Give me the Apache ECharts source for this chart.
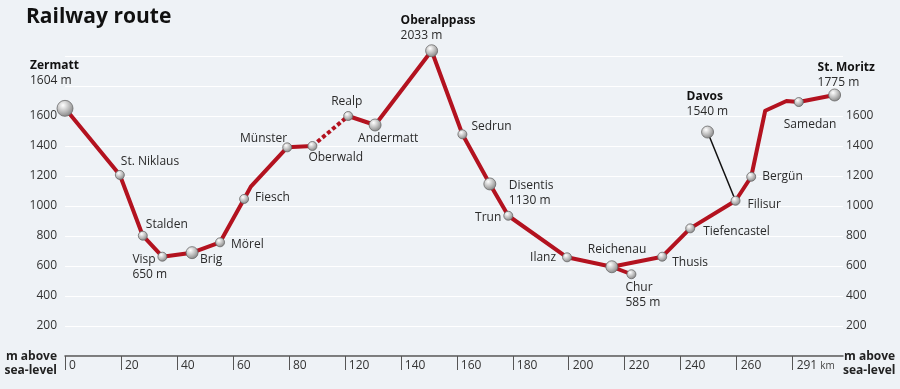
<!DOCTYPE html>
<html>
<head>
<meta charset="utf-8">
<script src="https://cdn.jsdelivr.net/npm/echarts@6/dist/echarts.min.js"></script>
<style>
html,body{margin:0;padding:0;background:#eef2f6;}
#chart{width:900px;height:389px;}
</style>
</head>
<body>
<div id="chart"></div>
<script>
// ---- data ----
const kmTickLabels = ['0','20','40','60','80','120','140','160','180','200','220','240','260','291'];
const yTicks = [200, 400, 600, 800, 1000, 1200, 1400, 1600];

const stationNames = ['Zermatt','St. Niklaus','Stalden','Visp','Brig','Mörel','Fiesch','Münster','Oberwald','Realp','Andermatt','Oberalppass','Sedrun','Disentis','Trun','Ilanz','Reichenau','Chur','Thusis','Tiefencastel','Filisur','Bergün','Samedan','St. Moritz','Davos'];
// position along the (tick-indexed) distance axis
const stationPos = [0, 0.98, 1.39, 1.74, 2.27, 2.77, 3.20, 3.97, 4.42, 5.06, 5.54, 6.55, 7.10, 7.59, 7.92, 8.97, 9.77, 10.12, 10.67, 11.17, 11.98, 12.26, 13.11, 13.75, 11.48];
// elevation (m above sea level) as drawn
const stationElev = [1651, 1207, 802, 662, 689, 758, 1047, 1391, 1400, 1600, 1540, 2035, 1478, 1147, 935, 658, 595, 545, 662, 851, 1035, 1195, 1693, 1740, 1493];
// printed elevation annotations
const stationElevText = ['1604 m','','','650 m','','','','','','','','2033 m','','1130 m','','','','585 m','','','','','','1775 m','1540 m'];

const bendNames = ['bend1','bend2','bend3'];
const bendPos = [3.32, 12.51, 12.89];
const bendElev = [1129, 1635, 1700];

const trackWest = ['Zermatt','St. Niklaus','Stalden','Visp','Brig','Mörel','Fiesch','bend1','Münster','Oberwald'];
const trackTunnel = ['Oberwald','Realp'];
const trackEast = ['Realp','Andermatt','Oberalppass','Sedrun','Disentis','Trun','Ilanz','Reichenau','Thusis','Tiefencastel','Filisur','Bergün','bend2','bend3','Samedan','St. Moritz'];
const trackChur = ['Reichenau','Chur'];
const trackDavos = ['Davos','Filisur'];

// ---- styles ----
const boldStations = ['Zermatt','Oberalppass','St. Moritz','Davos'];
const bigStations = {'Zermatt':16,'Brig':12,'Andermatt':12,'Oberalppass':12,'Disentis':12,'Reichenau':12,'St. Moritz':12,'Davos':12};
const smallSize = 9;
const labelLayout = {
  'Zermatt':[-35,-35,'left'], 'St. Niklaus':[1,-13,'left'], 'Stalden':[3,-11,'left'],
  'Visp':[-30,10,'left'], 'Brig':[8,7,'left'], 'Mörel':[11,2,'left'], 'Fiesch':[11,-1,'left'],
  'Münster':[0,-9,'right'], 'Oberwald':[-4,12,'left'], 'Realp':[-17,-14,'left'],
  'Andermatt':[-17,14,'left'], 'Oberalppass':[-31,-23,'left'], 'Sedrun':[9,-8,'left'],
  'Disentis':[19,9,'left'], 'Trun':[-7,2,'right'], 'Ilanz':[-11,0,'right'],
  'Reichenau':[-24,-17,'left'], 'Chur':[-6,21,'left'], 'Thusis':[10,6,'left'],
  'Tiefencastel':[13,3,'left'], 'Filisur':[12,4,'left'], 'Bergün':[11,0,'left'],
  'Samedan':[-15,23,'left'], 'St. Moritz':[-17,-20,'left'], 'Davos':[-21,-28,'left']
};
const RED = '#b3121f';
const FONT = '"Open Sans", "DejaVu Sans", sans-serif';

function pointOf(name) {
  let i = stationNames.indexOf(name);
  if (i >= 0) return [stationPos[i], stationElev[i]];
  i = bendNames.indexOf(name);
  return [bendPos[i], bendElev[i]];
}
function track(names) { return names.map(pointOf); }

const sphere = {
  type: 'radial', x: 0.38, y: 0.32, r: 0.75,
  colorStops: [{offset: 0, color: '#ffffff'}, {offset: 0.55, color: '#b8b8b8'}, {offset: 1, color: '#7a7a7a'}]
};

const stationData = stationNames.map((n, i) => {
  const lay = labelLayout[n];
  const bold = boldStations.indexOf(n) >= 0;
  let txt = bold ? '{b|' + n + '}' : '{n|' + n + '}';
  if (stationElevText[i]) txt += '\n{n|' + stationElevText[i] + '}';
  return {
    name: n,
    value: [stationPos[i], stationElev[i]],
    symbolSize: bigStations[n] || smallSize,
    label: {
      show: true, position: 'inside', align: lay[2], verticalAlign: 'middle',
      offset: [lay[0], lay[1]], formatter: txt
    }
  };
});

const lineBase = {type: 'line', symbol: 'none', silent: true, animation: false, z: 2, clip: false};

const chart = echarts.init(document.getElementById('chart'), null, {renderer: 'canvas'});
chart.setOption({
  backgroundColor: '#eef2f6',
  animation: false,
  textStyle: {fontFamily: FONT},
  title: {
    text: 'Railway route', left: 26, top: 7, padding: 0,
    textStyle: {fontFamily: FONT, fontSize: 21, fontWeight: 'bold', color: '#111'}
  },
  grid: {left: 65, right: 57, top: 56, bottom: 33},
  xAxis: {
    type: 'value', min: 0, max: 13.9, interval: 1,
    axisLine: {show: true, onZero: false, lineStyle: {color: '#555', width: 1.5}},
    axisTick: {show: true, length: 14, customValues: kmTickLabels.map((_, i) => i), lineStyle: {color: '#555', width: 1}},
    axisLabel: {
      customValues: kmTickLabels.map((_, i) => i),
      formatter: v => {
        const i = Math.round(v);
        return i === kmTickLabels.length - 1 ? '{v|' + kmTickLabels[i] + '} {k|km}' : '{v|' + kmTickLabels[i] + '}';
      },
      align: 'left', margin: 4, padding: [0, 0, 0, 4],
      rich: {v: {fontSize: 12, color: '#333', fontFamily: FONT}, k: {fontSize: 10, color: '#444', fontFamily: FONT}}
    },
    splitLine: {show: false}
  },
  yAxis: [{
    type: 'value', min: 0, max: 2000, interval: 200, position: 'left',
    axisLine: {show: false}, axisTick: {show: false},
    axisLabel: {margin: 8, fontSize: 12, color: '#333', fontFamily: FONT,
      formatter: v => yTicks.indexOf(v) >= 0 ? String(v) : ''},
    splitLine: {show: true, lineStyle: {color: '#ffffff', width: 1}}
  }, {
    type: 'value', min: 0, max: 2000, interval: 200, position: 'right',
    axisLine: {show: false}, axisTick: {show: false},
    axisLabel: {margin: 3, fontSize: 12, color: '#333', fontFamily: FONT,
      formatter: v => yTicks.indexOf(v) >= 0 ? String(v) : ''},
    splitLine: {show: false}
  }],
  graphic: [
    {type: 'text', x: 57, y: 357, style: {text: 'm above', font: 'bold 12px ' + FONT, fill: '#222', textAlign: 'right', textVerticalAlign: 'middle'}},
    {type: 'text', x: 57, y: 371, style: {text: 'sea-level', font: 'bold 12px ' + FONT, fill: '#222', textAlign: 'right', textVerticalAlign: 'middle'}},
    {type: 'text', x: 844, y: 357, style: {text: 'm above', font: 'bold 12px ' + FONT, fill: '#222', textAlign: 'left', textVerticalAlign: 'middle'}},
    {type: 'text', x: 843, y: 371, style: {text: 'sea-level', font: 'bold 12px ' + FONT, fill: '#222', textAlign: 'left', textVerticalAlign: 'middle'}}
  ],
  series: [
    Object.assign({}, lineBase, {data: track(trackDavos), lineStyle: {color: '#111', width: 1.5}}),
    Object.assign({}, lineBase, {data: track(trackWest), lineStyle: {color: RED, width: 4, join: 'round'}}),
    Object.assign({}, lineBase, {data: track(trackTunnel), lineStyle: {color: RED, width: 4, type: [4, 2.5]}}),
    Object.assign({}, lineBase, {data: track(trackEast), lineStyle: {color: RED, width: 4, join: 'round'}}),
    Object.assign({}, lineBase, {data: track(trackChur), lineStyle: {color: RED, width: 4}}),
    {
      type: 'scatter', z: 5, animation: false, silent: true, clip: false,
      data: stationData,
      itemStyle: {color: sphere, borderColor: '#6a6a6a', borderWidth: 0.8, opacity: 1},
      label: {
        rich: {
          b: {fontFamily: FONT, fontSize: 12, fontWeight: 'bold', color: '#111', lineHeight: 15},
          n: {fontFamily: FONT, fontSize: 12, color: '#2a2a2a', lineHeight: 15}
        }
      }
    }
  ]
});
</script>
</body>
</html>
